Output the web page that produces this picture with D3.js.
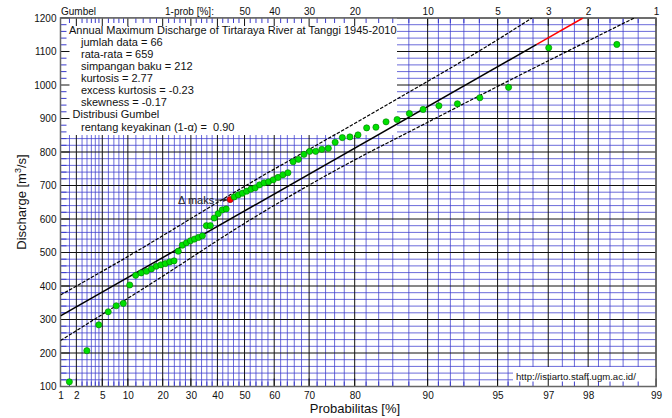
<!DOCTYPE html>
<html>
<head>
<meta charset="utf-8">
<script src="https://cdn.jsdelivr.net/npm/d3@7"></script>
<style>
  body { margin: 0; background: #fff; }
  svg { display: block; font-family: "Liberation Sans", Arial, sans-serif; }
</style>
</head>
<body>
<div id="chart"></div>
<script>
// annual maximum discharge, sorted (m3/s)
var discharge = [114, 207, 284, 323, 341, 348, 403, 432, 439, 444,
                 451, 459, 463, 467, 472, 475, 504, 522, 529, 535,
                 540, 545, 550, 580, 580, 603, 616, 627, 630, 658,
                 666, 672, 677, 683, 689, 693, 702, 708, 711, 717,
                 724, 732, 738, 771, 778, 793, 802, 802, 808, 811,
                 829, 843, 845, 851, 872, 874, 890, 897, 915, 927,
                 938, 944, 962, 993, 1111, 1121];
var deltaMaxRank = 30;

// fitted gumbel line [prob %, value], red part is beyond the data
var fitLine = [[1, 311], [96.63, 1121]];
var fitExtension = [[96.63, 1121], [97.89, 1200]];
// 90% band
var upperBand = [[1, 373], [8.2, 474], [51.9, 707], [81, 895], [95.6, 1159], [96.46, 1200]];
var lowerBand = [[1, 237], [18.1, 418], [51.9, 597], [82.7, 801], [86.5, 841], [95.6, 1015], [98.75, 1200]];

var probTicks = [1, 2, 5, 10, 20, 30, 40, 50, 60, 70, 80, 90, 95, 97, 98, 99];
var exceedTicks = [50, 40, 30, 20, 10, 5, 3, 2, 1];
var yTicks = [100, 200, 300, 400, 500, 600, 700, 800, 900, 1000, 1100, 1200];
var minorProb = [1.5, 2.5, 3, 3.5, 4, 4.5, 6, 7, 8, 9, 12, 14, 16, 18]
  .concat(d3.range(22, 80, 2).filter(function(p) { return p % 10 != 0; }))
  .concat([82, 84, 86, 88, 91, 92, 93, 94, 95.5, 96, 96.5, 97.4, 97.7, 98.2, 98.4, 98.6, 98.8]);

var statLines = [
  "jumlah data = 66",
  "rata-rata = 659",
  "simpangan baku = 212",
  "kurtosis = 2.77",
  "excess kurtosis = -0.23",
  "skewness = -0.17"
];

var W = 672, H = 418;
var pL = 60.5, pR = 656, pT = 18, pB = 386.5;
var gridBlue = "#3a3acc";

var gum = function(p) { return -Math.log(-Math.log(p / 100)); };
var xg = d3.scaleLinear().domain([gum(1), gum(99)]).range([pL, pR]);
var x = function(p) { return xg(gum(p)); };
var y = d3.scaleLinear().domain([100, 1200]).range([pB, pT]);

var svg = d3.select("#chart").append("svg")
  .attr("width", W).attr("height", H);

svg.append("clipPath").attr("id", "plot")
  .append("rect").attr("x", pL).attr("y", pT)
  .attr("width", pR - pL).attr("height", pB - pT);

// grid
var grid = svg.append("g");
var yMinor = d3.range(120, 1200, 20).filter(function(v) { return v % 100 != 0; });
grid.selectAll(".hm").data(yMinor).enter().append("line")
  .attr("x1", pL).attr("x2", pR)
  .attr("y1", function(d) { return y(d); }).attr("y2", function(d) { return y(d); })
  .attr("stroke", gridBlue).attr("stroke-opacity", 0.75);
grid.selectAll(".vm").data(minorProb).enter().append("line")
  .attr("y1", pT).attr("y2", pB)
  .attr("x1", function(d) { return x(d); }).attr("x2", function(d) { return x(d); })
  .attr("stroke", gridBlue).attr("stroke-opacity", 0.75);
grid.selectAll(".hM").data(yTicks).enter().append("line")
  .attr("x1", pL).attr("x2", pR)
  .attr("y1", function(d) { return y(d); }).attr("y2", function(d) { return y(d); })
  .attr("stroke", "#111");
grid.selectAll(".vM").data(probTicks).enter().append("line")
  .attr("y1", pT).attr("y2", pB)
  .attr("x1", function(d) { return x(d); }).attr("x2", function(d) { return x(d); })
  .attr("stroke", "#111");

// white boxes over the grid
svg.append("rect").attr("x", pL).attr("y", pT).attr("width", 397 - pL).attr("height", 135 - pT).attr("fill", "#fff");
svg.append("rect").attr("x", 513).attr("y", 367).attr("width", pR - 513).attr("height", pB - 367).attr("fill", "#fff");

// edge ticks
var ticks = svg.append("g");
[pT, pB].forEach(function(ey) {
  var dir = ey == pT ? 1 : -1;
  ticks.selectAll(null).data(minorProb).enter().append("line")
    .attr("x1", function(d) { return x(d); }).attr("x2", function(d) { return x(d); })
    .attr("y1", ey).attr("y2", ey + dir * 5).attr("stroke", gridBlue);
  ticks.selectAll(null).data(probTicks).enter().append("line")
    .attr("x1", function(d) { return x(d); }).attr("x2", function(d) { return x(d); })
    .attr("y1", ey).attr("y2", ey + dir * 8).attr("stroke", "#111");
});
ticks.selectAll(null).data(yMinor).enter().append("line")
  .attr("x1", pL).attr("x2", pL + 6)
  .attr("y1", function(d) { return y(d); }).attr("y2", function(d) { return y(d); })
  .attr("stroke", gridBlue);
ticks.selectAll(null).data(yTicks).enter().append("line")
  .attr("x1", pL).attr("x2", pL + 9)
  .attr("y1", function(d) { return y(d); }).attr("y2", function(d) { return y(d); })
  .attr("stroke", "#111");

// frame
svg.append("rect").attr("x", pL).attr("y", pT)
  .attr("width", pR - pL).attr("height", pB - pT)
  .attr("fill", "none").attr("stroke", "#666").attr("stroke-width", 1.5);

// fit and band
var line = d3.line()
  .x(function(d) { return x(d[0]); })
  .y(function(d) { return y(d[1]); });
var curve = d3.line()
  .x(function(d) { return x(d[0]); })
  .y(function(d) { return y(d[1]); })
  .curve(d3.curveMonotoneX);
var lines = svg.append("g").attr("clip-path", "url(#plot)").attr("fill", "none");
lines.append("path").attr("d", curve(upperBand)).attr("stroke", "#000").attr("stroke-width", 1.2).attr("stroke-dasharray", "3.5,1.5");
lines.append("path").attr("d", curve(lowerBand)).attr("stroke", "#000").attr("stroke-width", 1.2).attr("stroke-dasharray", "3.5,1.5");
lines.append("path").attr("d", line(fitLine)).attr("stroke", "#000").attr("stroke-width", 1.5);
lines.append("path").attr("d", line(fitExtension)).attr("stroke", "#f00").attr("stroke-width", 1.5);

// observed points
var n = discharge.length;
svg.append("g").selectAll("circle").data(discharge).enter().append("circle")
  .attr("cx", function(d, i) { return x((i + 1) / (n + 1) * 100); })
  .attr("cy", function(d) { return y(d); })
  .attr("r", 3.1)
  .attr("fill", function(d, i) { return i + 1 == deltaMaxRank ? "#f00" : "#00e000"; })
  .attr("stroke", function(d, i) { return i + 1 == deltaMaxRank ? "#800" : "#070"; })
  .attr("stroke-width", 0.6);

// delta max label
var dp = x(deltaMaxRank / (n + 1) * 100), dv = y(discharge[deltaMaxRank - 1]);
svg.append("text").attr("x", dp - 16).attr("y", dv + 4.5)
  .attr("text-anchor", "end").attr("font-size", 11).attr("fill", "#222")
  .text("\u0394 maks");
svg.append("line").attr("x1", dp - 15).attr("x2", dp - 3)
  .attr("y1", dv + 0.5).attr("y2", dv + 0.5).attr("stroke", "#222");
svg.append("path").attr("d", "M" + (dp - 3) + "," + (dv + 0.5) + "l-4,-2l0,4z").attr("fill", "#222");

// axes
var xAxis = svg.append("g").attr("transform", "translate(0," + pB + ")")
  .call(d3.axisBottom(xg).tickValues(probTicks.map(gum))
    .tickFormat(function(d, i) { return probTicks[i]; }).tickSize(0).tickPadding(5.5));
var topAxis = svg.append("g").attr("transform", "translate(0," + pT + ")")
  .call(d3.axisTop(xg).tickValues(exceedTicks.map(function(p) { return gum(100 - p); }))
    .tickFormat(function(d, i) { return exceedTicks[i]; }).tickSize(0).tickPadding(3.5));
var yAxis = svg.append("g").attr("transform", "translate(" + pL + ",0)")
  .call(d3.axisLeft(y).tickValues(yTicks).tickFormat(d3.format("d")).tickSize(0).tickPadding(4));
[xAxis, topAxis, yAxis].forEach(function(a) {
  a.select(".domain").remove();
  a.attr("font-family", null);
  a.selectAll("text").attr("font-size", 10).attr("fill", "#111");
});

svg.append("text").attr("x", 61).attr("y", 14.5).attr("font-size", 10).attr("fill", "#111").text("Gumbel");
svg.append("text").attr("x", 165).attr("y", 14.5).attr("font-size", 10).attr("fill", "#111").text("1-prob [%]:");

svg.append("text").attr("x", 355).attr("y", 413).attr("text-anchor", "middle")
  .attr("font-size", 13).attr("fill", "#111").text("Probabilitas [%]");
var yl = svg.append("text").attr("transform", "translate(26,202) rotate(-90)")
  .attr("text-anchor", "middle").attr("font-size", 13).attr("fill", "#111");
yl.append("tspan").text("Discharge [m");
yl.append("tspan").attr("font-size", 9).attr("dy", -5).text("3");
yl.append("tspan").attr("dy", 5).text("/s]");

// info text
var info = svg.append("g").attr("font-size", 11).attr("fill", "#111");
info.append("text").attr("x", 69).attr("y", 34)
  .text("Annual Maximum Discharge of Tirtaraya River at Tanggi 1945-2010");
info.selectAll(".st").data(statLines).enter().append("text")
  .attr("x", 81).attr("y", function(d, i) { return 46.2 + i * 11.9; })
  .text(function(d) { return d; });
info.append("text").attr("x", 72.5).attr("y", 117.5).text("Distribusi Gumbel");
info.append("text").attr("x", 81).attr("y", 130.5).style("white-space", "pre")
  .text("rentang keyakinan (1-\u03b1) =  0.90");

svg.append("text").attr("x", 516).attr("y", 379.5).attr("font-size", 9.6).attr("fill", "#111")
  .text("http://istiarto.staff.ugm.ac.id/");
</script>
</body>
</html>
